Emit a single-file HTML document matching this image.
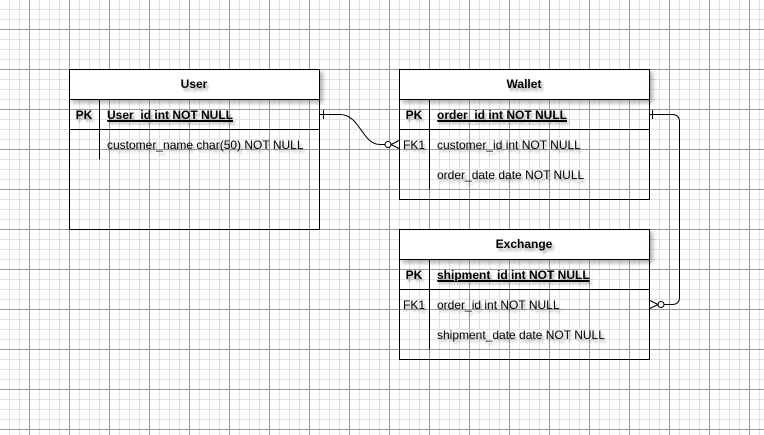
<!DOCTYPE html>
<html><head><meta charset="utf-8"><style>
html,body{margin:0;padding:0;background:#fff;}
svg{display:block;}
text{font-family:"Liberation Sans",Arial,sans-serif;font-size:12px;fill:#000;}
.b{font-weight:bold;}
</style></head><body>
<svg width="764" height="435" viewBox="0 0 764 435" xmlns="http://www.w3.org/2000/svg">
<defs>
<pattern id="minor" width="10" height="10" patternUnits="userSpaceOnUse" x="9" y="9">
<path d="M0 0.5H10M0.5 0V10" stroke="#e2e2e2" stroke-width="1" fill="none"/>
</pattern>
<pattern id="major" width="40" height="40" patternUnits="userSpaceOnUse" x="29" y="29">
<path d="M0 0.5H40M0.5 0V40" stroke="#9a9a9a" stroke-width="1" fill="none"/>
</pattern>
<filter id="sh" x="-10%" y="-10%" width="130%" height="130%">
<feGaussianBlur in="SourceAlpha" stdDeviation="2"/>
<feOffset dx="3" dy="3"/>
<feComponentTransfer><feFuncA type="linear" slope="0.3"/></feComponentTransfer>
<feMerge><feMergeNode/><feMergeNode in="SourceGraphic"/></feMerge>
</filter>
<filter id="ts" x="-5%" y="-30%" width="110%" height="160%">
<feGaussianBlur in="SourceAlpha" stdDeviation="1.2"/>
<feOffset dx="2" dy="3"/>
<feComponentTransfer><feFuncA type="linear" slope="0.35"/></feComponentTransfer>
<feMerge><feMergeNode/><feMergeNode in="SourceGraphic"/></feMerge>
</filter>
</defs>
<rect width="764" height="435" fill="#fff"/>
<rect width="764" height="435" fill="url(#minor)"/>
<rect width="764" height="435" fill="url(#major)"/>

<g fill="none" stroke="#000" stroke-width="1">
<!-- User -->
<rect x="69.5" y="69.5" width="250" height="30" fill="#fff" filter="url(#sh)"/>
<rect x="69.5" y="69.5" width="250" height="160"/>
<path d="M69.5 129.5H319.5M99.5 99.5V159.5"/>
<!-- Wallet -->
<rect x="399.5" y="69.5" width="250" height="30" fill="#fff" filter="url(#sh)"/>
<rect x="399.5" y="69.5" width="250" height="130"/>
<path d="M399.5 129.5H649.5M429.5 99.5V189.5"/>
<!-- Exchange -->
<rect x="399.5" y="229.5" width="250" height="30" fill="#fff" filter="url(#sh)"/>
<rect x="399.5" y="229.5" width="250" height="130"/>
<path d="M399.5 289.5H649.5M429.5 259.5V349.5"/>
<!-- connectors -->
<path d="M319.5 114.5H340C360 114.5 362 144.5 380 144.5H385"/>
<path d="M323.5 110V119"/>
<circle cx="388" cy="144.5" r="3" fill="#fff"/>
<path d="M399 140.5L391 144.5L399 148.5"/>
<path d="M649.5 114.5H672Q679.5 114.5 679.5 122V297Q679.5 304.5 672 304.5H664"/>
<path d="M652.5 110V119"/>
<circle cx="661" cy="304.5" r="3" fill="#fff"/>
<path d="M650 300.5L658 304.5L650 308.5"/>
</g>

<g filter="url(#ts)">
<text x="194" y="88" class="b" text-anchor="middle">User</text>
<text x="84" y="119" class="b" text-anchor="middle">PK</text>
<text x="107" y="119" class="b" text-decoration="underline">User_id int NOT NULL</text>
<text x="107" y="149">customer_name char(50) NOT NULL</text>

<text x="524" y="88" class="b" text-anchor="middle">Wallet</text>
<text x="414" y="119" class="b" text-anchor="middle">PK</text>
<text x="437" y="119" class="b" text-decoration="underline">order_id int NOT NULL</text>
<text x="414" y="149" text-anchor="middle">FK1</text>
<text x="437" y="149">customer_id int NOT NULL</text>
<text x="437" y="179">order_date date NOT NULL</text>

<text x="524" y="248" class="b" text-anchor="middle">Exchange</text>
<text x="414" y="279" class="b" text-anchor="middle">PK</text>
<text x="437" y="279" class="b" text-decoration="underline">shipment_id int NOT NULL</text>
<text x="414" y="309" text-anchor="middle">FK1</text>
<text x="437" y="309">order_id int NOT NULL</text>
<text x="437" y="339">shipment_date date NOT NULL</text>
</g>
<path d="M107.5 121.5H233M437.5 121.5H567M437.5 281.5H589" stroke="#000" stroke-width="1"/>
</svg>
</body></html>
